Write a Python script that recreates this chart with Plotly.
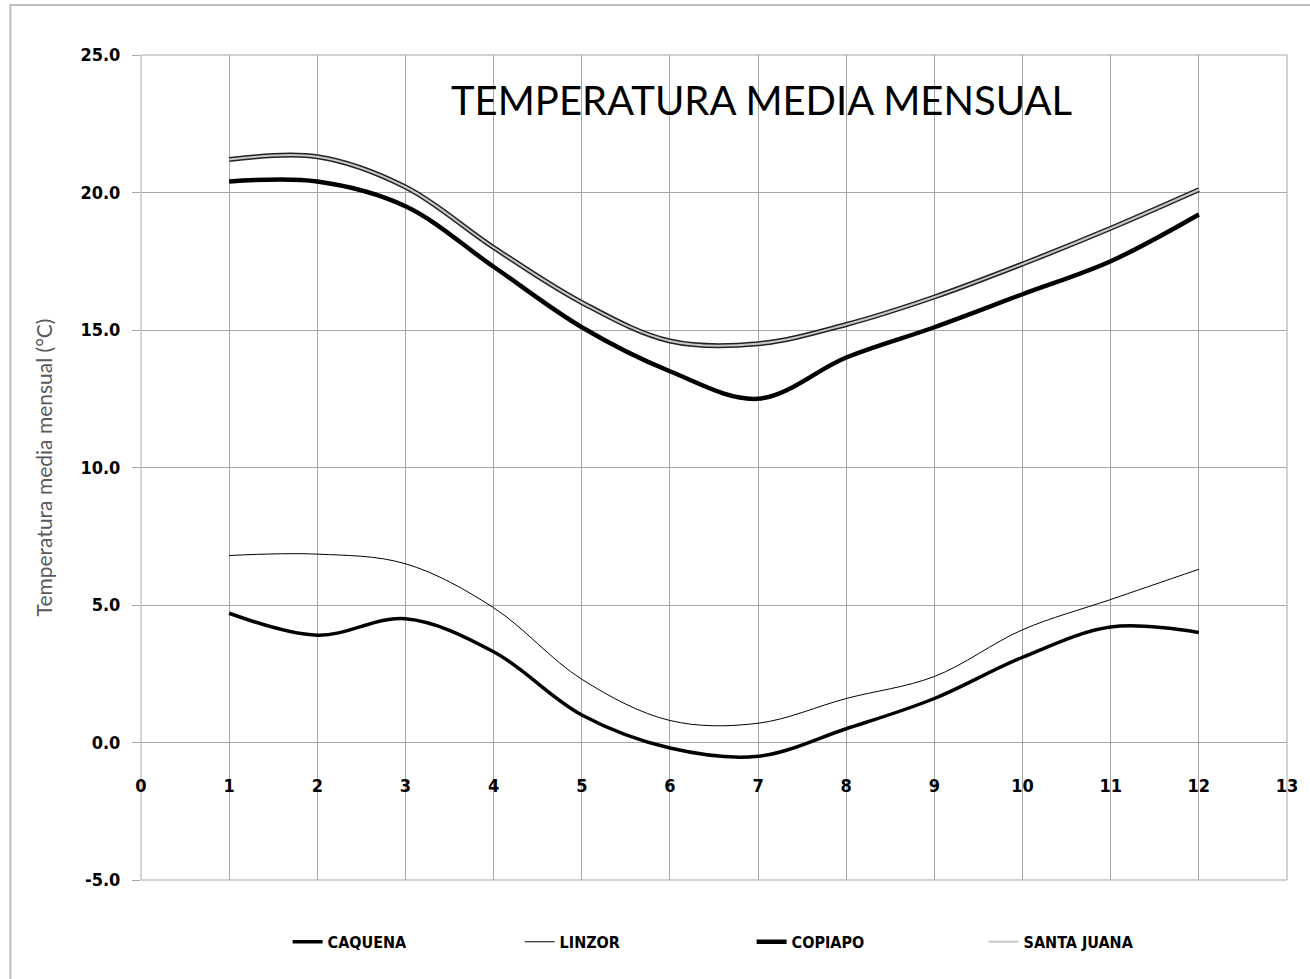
import plotly.graph_objects as go

# ── Data (monthly mean temperature, °C) ──────────────────────────
months = [1, 2, 3, 4, 5, 6, 7, 8, 9, 10, 11, 12]

caquena     = [4.7, 3.9, 4.5, 3.3, 1.0, -0.2, -0.5, 0.5, 1.6, 3.1, 4.2, 4.0]
linzor      = [6.8, 6.85, 6.5, 4.9, 2.3, 0.8, 0.7, 1.6, 2.4, 4.1, 5.2, 6.3]
copiapo     = [20.4, 20.4, 19.5, 17.3, 15.1, 13.5, 12.5, 14.0, 15.1, 16.3, 17.5, 19.2]
santa_juana = [21.2, 21.3, 20.2, 18.0, 16.0, 14.6, 14.5, 15.2, 16.2, 17.4, 18.7, 20.1]

x_ticks = list(range(0, 14))
y_ticks = [-5, 0, 5, 10, 15, 20, 25]
y_tick_text = [f"{v:.1f}" for v in y_ticks]   # plain hyphen for "-5.0"

NARROW = "Liberation Sans Narrow, DejaVu Sans Condensed, Arial Narrow, sans-serif"
GRID = "#a6a6a6"

fig = go.Figure()

fig.add_trace(go.Scatter(x=months, y=caquena, name="CAQUENA", mode="lines",
                         line=dict(color="black", width=3.5, shape="spline")))
fig.add_trace(go.Scatter(x=months, y=linzor, name="LINZOR", mode="lines",
                         line=dict(color="black", width=1, shape="spline")))
fig.add_trace(go.Scatter(x=months, y=copiapo, name="COPIAPO", mode="lines",
                         line=dict(color="black", width=4.5, shape="spline")))
# Santa Juana: double-line look (dark outline + light core)
fig.add_trace(go.Scatter(x=months, y=santa_juana, mode="lines", showlegend=False,
                         line=dict(color="#222222", width=5, shape="spline")))
fig.add_trace(go.Scatter(x=months, y=santa_juana, name="SANTA JUANA", mode="lines",
                         line=dict(color="#c8c8c8", width=2, shape="spline")))

fig.update_layout(
    width=1310, height=979,
    paper_bgcolor="white", plot_bgcolor="white",
    margin=dict(l=141, r=20, t=55, b=99),
    font=dict(family=NARROW, size=15, color="black"),
    showlegend=True,
    legend=dict(
        orientation="h", x=(288 - 141) / 1149, xanchor="left", y=-0.075, yanchor="middle",
        font=dict(family=NARROW, size=16, color="black", weight="bold"),
        entrywidth=187, entrywidthmode="pixels",
        bgcolor="rgba(0,0,0,0)",
    ),
    annotations=[dict(
        text="TEMPERATURA MEDIA MENSUAL", xref="paper", yref="paper",
        x=(763 - 141) / 1149, y=(880 - 100) / 825, xanchor="center", yanchor="middle",
        showarrow=False, font=dict(family="Lato, Open Sans, sans-serif", size=40, color="black"),
    )],
    shapes=[
        # outer chart border
        dict(type="rect", xref="paper", yref="paper",
             x0=(10 - 141) / 1149, x1=1.1, y0=-0.3, y1=(880 - 5) / 825,
             line=dict(color="#bfbfbf", width=2), fillcolor="rgba(0,0,0,0)", layer="below"),
        # plot-area frame
        dict(type="rect", xref="paper", yref="paper", x0=0, x1=1, y0=0, y1=1,
             line=dict(color=GRID, width=1), fillcolor="rgba(0,0,0,0)", layer="below"),
    ],
)

fig.update_xaxes(
    range=[0, 13], tickmode="array", tickvals=x_ticks,
    showgrid=True, gridcolor=GRID, gridwidth=1,
    zeroline=False, showline=False,
    anchor="free", position=5 / 30,
    ticks="", ticklabelstandoff=30,
    tickfont=dict(family=NARROW, size=18, color="black", weight="bold"),
)
fig.update_yaxes(
    range=[-5, 25], tickmode="array", tickvals=y_ticks, ticktext=y_tick_text,
    showgrid=True, gridcolor=GRID, gridwidth=1,
    zeroline=True, zerolinecolor=GRID, zerolinewidth=1, showline=False,
    ticks="outside", ticklen=8, tickcolor=GRID, ticklabelstandoff=8,
    tickfont=dict(family=NARROW, size=18, color="black", weight="bold"),
    title=dict(text="Temperatura media mensual (°C)", standoff=22,
               font=dict(family="Lato, Open Sans, sans-serif", size=21, color="#595959")),
)

fig.write_html("out.html", config={"displayModeBar": False},
               post_script="document.body.style.margin='0px';")
